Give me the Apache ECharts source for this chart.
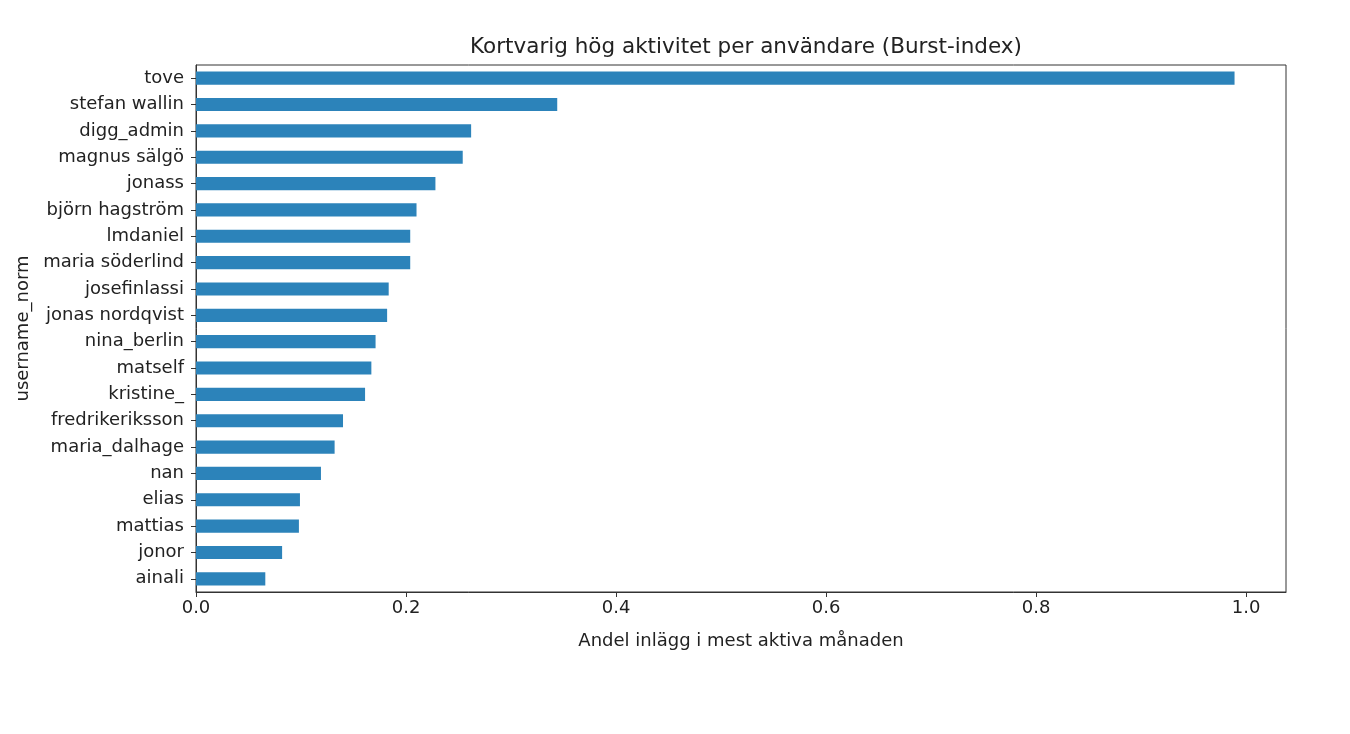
<!DOCTYPE html>
<html>
<head>
<meta charset="utf-8">
<script src="https://cdn.jsdelivr.net/npm/echarts@6/dist/echarts.min.js"></script>
<style>html,body{margin:0;padding:0;background:#fff;}#c{width:1350px;height:734px;}</style>
</head>
<body>
<div id="c"></div>
<script>
const users = ["tove","stefan wallin","digg_admin","magnus sälgö","jonass","björn hagström","lmdaniel","maria söderlind","josefinlassi","jonas nordqvist","nina_berlin","matself","kristine_","fredrikeriksson","maria_dalhage","nan","elias","mattias","jonor","ainali"];
const burst = [0.989,0.344,0.262,0.254,0.228,0.210,0.204,0.204,0.1835,0.182,0.171,0.167,0.161,0.140,0.132,0.119,0.099,0.098,0.082,0.066];
const xTicks = [0.0,0.2,0.4,0.6,0.8,1.0];
const titleText = "Kortvarig hög aktivitet per användare (Burst-index)";
const xName = "Andel inlägg i mest aktiva månaden";
const yName = "username_norm";

const font = "DejaVu Sans";
const chart = echarts.init(document.getElementById('c'));
chart.setOption({
  animation:false,
  backgroundColor:'#fff',
  title:{text:titleText,left:741,top:31,textAlign:'center',
    textStyle:{fontFamily:font,fontSize:21.5,fontWeight:'normal',color:'#222'}},
  grid:{left:196,right:64,top:65,bottom:142,show:true,borderColor:'#333',borderWidth:1,backgroundColor:'transparent'},
  xAxis:{type:'value',min:0,max:1.038,interval:0.2,
    name:xName,nameLocation:'middle',nameGap:40,
    nameTextStyle:{fontFamily:font,fontSize:18,color:'#222'},
    axisLine:{show:true,lineStyle:{color:'#333'}},
    axisTick:{show:true,length:5,lineStyle:{color:'#333'},customValues:xTicks},
    splitLine:{show:false},
    axisLabel:{fontFamily:font,fontSize:18,color:'#222',margin:7,customValues:xTicks,
      formatter:v=>v.toFixed(1)}},
  yAxis:{type:'category',data:users,inverse:true,
    name:yName,nameLocation:'middle',nameGap:164,nameRotate:90,
    nameTextStyle:{fontFamily:font,fontSize:18,color:'#222'},
    axisLine:{show:true,lineStyle:{color:'#333'}},
    axisTick:{show:true,alignWithLabel:true,length:5,lineStyle:{color:'#333'}},
    axisLabel:{fontFamily:font,fontSize:18,color:'#222',margin:12,interval:0}},
  series:[{type:'bar',data:burst,barWidth:'50%',itemStyle:{color:'#2c83ba'}}]
});
</script>
</body>
</html>
